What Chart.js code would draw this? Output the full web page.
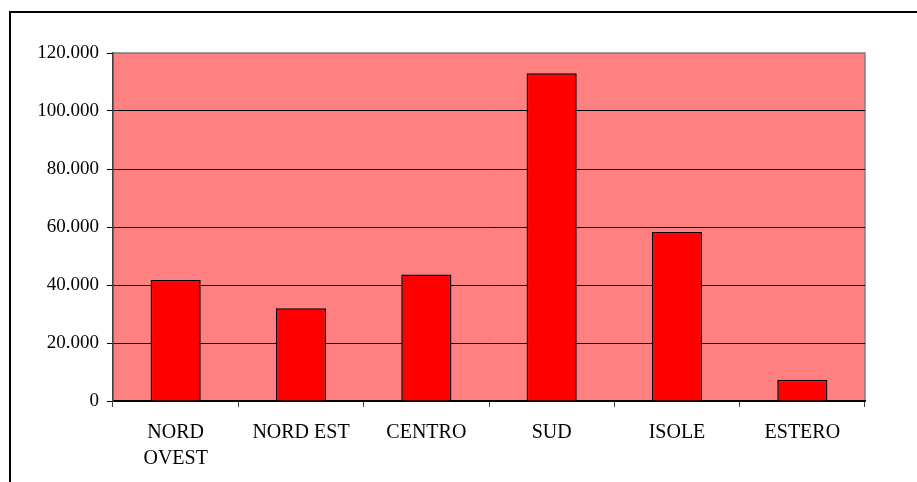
<!DOCTYPE html>
<html>
<head>
<meta charset="utf-8">
<script src="https://cdn.jsdelivr.net/npm/chart.js@4.4.0/dist/chart.umd.min.js"></script>
<style>
  html, body { margin: 0; padding: 0; background: #fff; }
  #wrap { position: relative; width: 917px; height: 482px; overflow: hidden; }
  #frame { position: absolute; left: 9px; top: 11px; width: 1000px; height: 600px;
           border-left: 2px solid #000; border-top: 2px solid #000; }
  canvas { position: absolute; left: 0; top: 0; }
</style>
</head>
<body>
<div id="wrap">
  <div id="frame"></div>
  <canvas id="chart" width="917" height="482"></canvas>
</div>
<script>
// regions (labels wrap like the original)
const categories = [["NORD", "OVEST"], "NORD EST", "CENTRO", "SUD", "ISOLE", "ESTERO"];
const values = [41700, 32000, 43600, 113000, 58300, 7300];
const yMax = 120000;
const yStep = 20000;

const fmt = v => v.toString().replace(/\B(?=(\d{3})+(?!\d))/g, '.');

// pink plot area with grey frame, drawn under the grid
const plotBg = {
  id: 'plotBg',
  beforeDraw(chart) {
    const { ctx, chartArea: a } = chart;
    ctx.save();
    ctx.fillStyle = '#FF8080';
    ctx.fillRect(a.left, a.top, a.right - a.left, a.bottom - a.top);
    ctx.strokeStyle = '#808080';
    ctx.lineWidth = 1.5;
    ctx.strokeRect(a.left, a.top, a.right - a.left, a.bottom - a.top);
    ctx.restore();
  }
};

new Chart(document.getElementById('chart'), {
  type: 'bar',
  data: {
    labels: categories,
    datasets: [{
      data: values,
      backgroundColor: '#FF0000',
      borderColor: '#000',
      borderWidth: 1.5,
      barPercentage: 0.4,
      categoryPercentage: 1
    }]
  },
  options: {
    responsive: false,
    animation: false,
    layout: { padding: { left: 0, top: 53, right: 52, bottom: 0 } },
    plugins: { legend: { display: false }, tooltip: { enabled: false } },
    scales: {
      x: {
        afterFit: s => { s.height = 81; },
        grid: { display: true, drawOnChartArea: false, drawTicks: true, tickLength: 6, color: '#404040', offset: true },
        border: { color: '#000', width: 1.5 },
        ticks: { color: '#000', padding: 13, font: { family: 'Liberation Serif', size: 20, lineHeight: 1.3 } }
      },
      y: {
        min: 0,
        max: yMax,
        afterFit: s => { s.width = 113; },
        grid: {
          color: c => (c.tick && c.tick.value === yMax) ? '#808080' : '#000',
          tickColor: '#000',
          tickLength: 6,
          lineWidth: 1
        },
        border: { color: '#404040', width: 1.5 },
        ticks: {
          stepSize: yStep,
          color: '#000',
          padding: 8,
          font: { family: 'Liberation Serif', size: 19 },
          callback: v => fmt(v)
        }
      }
    }
  },
  plugins: [plotBg]
});
</script>
</body>
</html>
